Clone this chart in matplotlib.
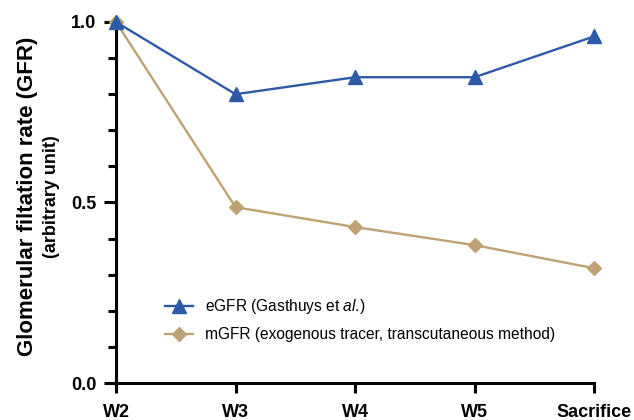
import matplotlib
matplotlib.use("Agg")
import matplotlib.pyplot as plt
from matplotlib.ticker import MultipleLocator

plt.rcParams['font.family'] = ['Liberation Sans', 'DejaVu Sans']
plt.rcParams['mathtext.fontset'] = 'custom'
plt.rcParams['mathtext.it'] = 'Liberation Sans:italic'
plt.rcParams['mathtext.rm'] = 'Liberation Sans'

# données
timepoints = ['W2', 'W3', 'W4', 'W5', 'Sacrifice']
egfr = [1.0, 0.80, 0.847, 0.847, 0.96]
mgfr = [1.0, 0.487, 0.432, 0.382, 0.318]
egfr_label = 'eGFR (Gasthuys et $\\mathit{al}$.)'
mgfr_label = 'mGFR (exogenous tracer, transcutaneous method)'
y_ticks = [0.0, 0.5, 1.0]

blue = '#2C5AA8'
tan = '#BFA273'

fig = plt.figure(figsize=(6.34, 4.2), dpi=100)
ax = fig.add_axes([116 / 634, 37 / 420, (594 - 116) / 634, (383 - 22) / 420])

x = list(range(len(timepoints)))
ax.plot(x, egfr, color=blue, lw=1.7, marker='^', ms=9.5, label=egfr_label,
        clip_on=False, zorder=4)
ax.plot(x, mgfr, color=tan, lw=1.7, marker='D', ms=7.5, label=mgfr_label,
        clip_on=False, zorder=3)

ax.set_xlim(0, len(timepoints) - 1)
ax.set_ylim(0, 1.0)
ax.set_xticks(x)
ax.set_xticklabels(timepoints, fontsize=13, fontweight='bold')
ax.set_yticks(y_ticks)
ax.set_yticklabels([f'{v:.1f}' for v in y_ticks], fontsize=13, fontweight='bold')
ax.yaxis.set_minor_locator(MultipleLocator(0.1))

for s in ['top', 'right']:
    ax.spines[s].set_visible(False)
for s in ['left', 'bottom']:
    ax.spines[s].set_linewidth(2.2)

ax.tick_params(axis='y', which='major', length=9, width=2.2, pad=5)
ax.tick_params(axis='y', which='minor', length=6, width=2.2)
ax.tick_params(axis='x', which='major', length=7, width=2.2, pad=8)

fig.text(27.5 / 634, 0.533, 'Glomerular filtation rate (GFR)', rotation=90,
         ha='center', va='center', fontsize=16, fontweight='bold')
fig.text(51 / 634, 0.533, '(arbitrary unit)', rotation=90,
         ha='center', va='center', fontsize=13, fontweight='bold')

ax.legend(loc='upper left', bbox_to_anchor=(165 / 634, 0.292),
          bbox_transform=fig.transFigure, frameon=False, fontsize=11.2,
          handlelength=1.8, handletextpad=0.8, borderpad=0, borderaxespad=0,
          labelspacing=0.7)

fig.savefig('out.png', dpi=100)
